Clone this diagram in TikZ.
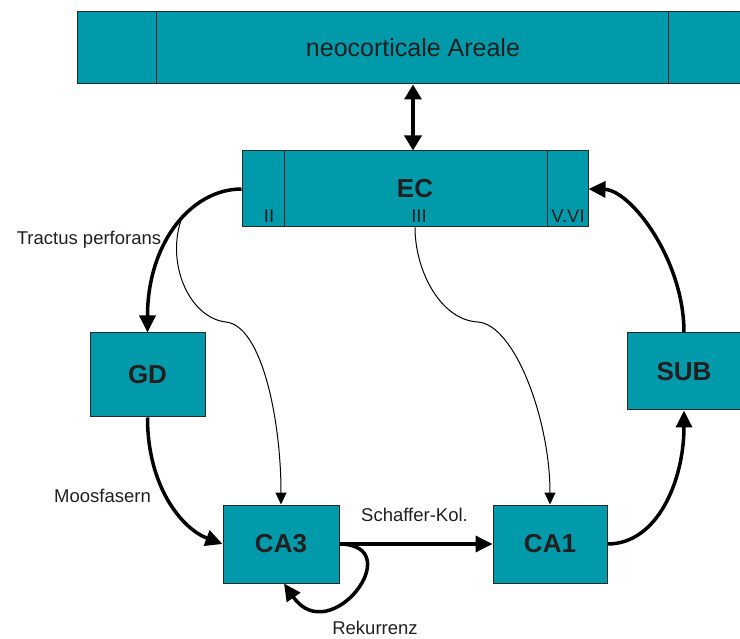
\documentclass[tikz,border=0pt]{standalone}
\usepackage{fontspec}
\setmainfont{Liberation Sans}
\usetikzlibrary{arrows.meta}
\definecolor{hippoteal}{RGB}{0,154,170}
\definecolor{hippoline}{RGB}{40,40,40}
\definecolor{hippotext}{RGB}{35,31,32}
\tikzset{areabox/.style={rectangle,draw=hippoline,fill=hippoteal,
line width=1pt,inner sep=0pt,text=hippotext}}
\tikzset{areadiv/.style={draw=hippoline,line width=1pt}}
\tikzset{fibre/.style={line width=3.5pt,-{Triangle[length=17pt,width=16pt]}}}
\tikzset{thinfibre/.style={line width=1pt,-{Triangle[length=12pt,width=11pt]}}}
\tikzset{pathlabel/.style={inner sep=0pt,anchor=base,text=hippotext,
font=\fontsize{18.5}{20}\selectfont}}

\begin{document}
\begin{tikzpicture}[x=1pt,y=-1pt]
        \useasboundingbox (0,0) rectangle (740,639);

        \node[areabox,minimum width=672pt,minimum height=72pt,
              font=\fontsize{25}{28}\selectfont] (boxNeo) at (413,48) {neocorticale Areale};
        \draw[areadiv] ([xshift=80pt]boxNeo.north west) -- ([xshift=80pt]boxNeo.south west);
        \draw[areadiv] ([xshift=592pt]boxNeo.north west) -- ([xshift=592pt]boxNeo.south west);

        \node[areabox,minimum width=346pt,minimum height=76pt,
              font=\fontsize{26}{28}\selectfont\bfseries] (boxEC) at (415,189) {EC};
        \draw[areadiv] ([xshift=43pt]boxEC.north west) -- ([xshift=43pt]boxEC.south west);
        \draw[areadiv] ([xshift=-41pt]boxEC.north east) -- ([xshift=-41pt]boxEC.south east);
        \node[pathlabel] (lblII) at (269,223) {II};
        \node[pathlabel] (lblIII) at (419,223) {III};
        \node[pathlabel] (lblVVI) at (568,223) {V.VI};

        \node[areabox,minimum width=115pt,minimum height=84pt,
              font=\fontsize{26}{28}\selectfont\bfseries] (boxGD) at (147.5,375) {GD};
        \node[areabox,minimum width=114pt,minimum height=77pt,
              font=\fontsize{26}{28}\selectfont\bfseries] (boxSUB) at (684,371.5) {SUB};
        \node[areabox,minimum width=116pt,minimum height=78pt,
              font=\fontsize{26}{28}\selectfont\bfseries] (boxCAthree) at (281,544) {CA3};
        \node[areabox,minimum width=114pt,minimum height=78pt,
              font=\fontsize{26}{28}\selectfont\bfseries] (boxCAone) at (550,544) {CA1};

        % neocortex <-> EC
        \draw[line width=3.5pt,{Triangle[length=15pt,width=17pt]}-{Triangle[length=15pt,width=17pt]}]
            (boxNeo.south) -- (boxNeo.south |- boxEC.north);

        % Tractus perforans and its branch to CA3
        \draw[fibre] (boxEC.west) .. controls +(-50,0) and +(0,-90) .. (boxGD.north)
            coordinate[pos=0.45] (tpBranch);
        \node[pathlabel] (lblTractus) at (89,245) {Tractus perforans};
        \draw[thinfibre] (tpBranch) .. controls (166,265) and (190,318) .. (226,322)
            .. controls (262,326) and (281,420) .. (boxCAthree.north);

        % EC III -> CA1
        \draw[thinfibre] (boxEC.south) .. controls (415,270) and (440,320) .. (478,322)
            .. controls (515,325) and (550,420) .. (boxCAone.north);

        % Moosfasern
        \draw[fibre] (boxGD.south) .. controls +(0,70) and +(-40,-15) .. (boxCAthree.west);
        \node[pathlabel] (lblMoos) at (102.5,502) {Moosfasern};

        % Schaffer-Kollateralen
        \draw[fibre] (boxCAthree.east) -- (boxCAone.west);
        \node[pathlabel] (lblSchaffer) at (414.5,521) {Schaffer-Kol.};

        % Rekurrenz
        \coordinate (recIn) at ([xshift=3pt]boxCAthree.south);
        \draw[fibre] (boxCAthree.east) .. controls (410,545) and (330,650) .. (recIn);
        \node[pathlabel] (lblRek) at (375,634) {Rekurrenz};

        % CA1 -> SUB -> EC
        \draw[fibre] (boxCAone.east) .. controls +(50,0) and +(0,70) .. (boxSUB.south);
        \draw[fibre] (boxSUB.north) .. controls +(0,-73) and +(42,1) .. (boxEC.east);

    \end{tikzpicture}
\end{document}
